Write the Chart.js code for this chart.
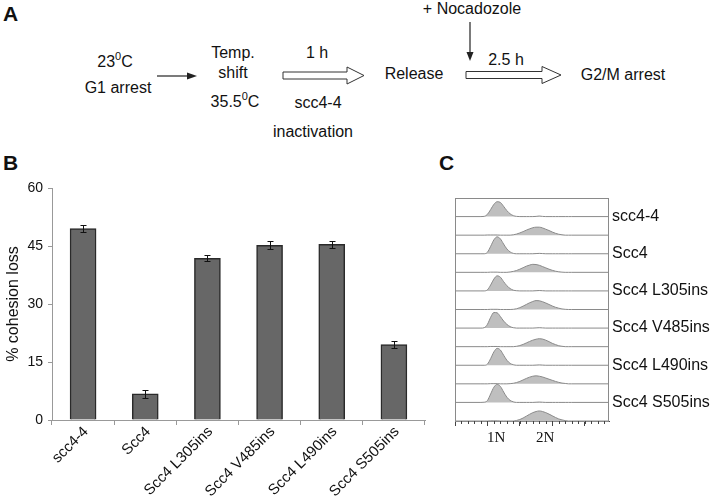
<!DOCTYPE html>
<html lang="en">
<head>
<meta charset="UTF-8">
<title>Scc4 insertion mutants - cohesion loss</title>
<script src="https://cdn.jsdelivr.net/npm/chart.js"></script>
<style>
  body { margin: 0; background: #fff; font-family: "Liberation Sans", Arial, sans-serif; }
  #page { position: relative; width: 714px; height: 499px; overflow: hidden; }
  #scheme { position: absolute; left: 0; top: 0; }
  #chartB { position: absolute; left: 0; top: 170px; }
  #chartC { position: absolute; left: 440px; top: 180px; }
</style>
</head>
<body>
<div id="page">
  <!-- panel A: experiment outline, plus the panel letters -->
  <svg id="scheme" width="714" height="499" font-family="Liberation Sans, Arial, sans-serif" font-size="16" fill="#111">
    <text x="3" y="21" font-size="21" font-weight="bold">A</text>
    <text x="3" y="170" font-size="21" font-weight="bold">B</text>
    <text x="439" y="170" font-size="21" font-weight="bold">C</text>

    <text x="115" y="67" text-anchor="middle">23<tspan font-size="11" dy="-7">0</tspan><tspan dy="7">C</tspan></text>
    <text x="118" y="93" text-anchor="middle">G1 arrest</text>
    <line x1="157" y1="76" x2="189" y2="76" stroke="#222" stroke-width="1.2"/>
    <polygon points="197,76 187,72.5 187,79.5" fill="#222"/>

    <text x="233" y="58" text-anchor="middle">Temp.</text>
    <text x="233" y="78" text-anchor="middle">shift</text>
    <text x="235" y="107" text-anchor="middle">35.5<tspan font-size="11" dy="-7">0</tspan><tspan dy="7">C</tspan></text>

    <text x="317" y="58" text-anchor="middle">1 h</text>
    <path d="M283,72 H347 V67 L364,75.5 L347,84 V79 H283 Z" fill="#fff" stroke="#333" stroke-width="1"/>
    <text x="318" y="108" text-anchor="middle">scc4-4</text>
    <text x="313" y="137" text-anchor="middle">inactivation</text>

    <text x="414" y="79" text-anchor="middle">Release</text>

    <text x="472" y="14" text-anchor="middle">+ Nocadozole</text>
    <line x1="470" y1="22" x2="470" y2="53" stroke="#222" stroke-width="1.2"/>
    <polygon points="470,61 466.5,52 473.5,52" fill="#222"/>
    <text x="506" y="65" text-anchor="middle">2.5 h</text>
    <path d="M466,71.5 H542 V66.5 L561,75 L542,83.5 V78.5 H466 Z" fill="#fff" stroke="#333" stroke-width="1"/>

    <text x="623" y="80" text-anchor="middle">G2/M arrest</text>
  </svg>

  <canvas id="chartB" width="440" height="329"></canvas>
  <canvas id="chartC" width="274" height="270"></canvas>
</div>

<script>
  // panel B: % cohesion loss per strain
  const strains = ['scc4-4', 'Scc4', 'Scc4 L305ins', 'Scc4 V485ins', 'Scc4 L490ins', 'Scc4 S505ins'];
  const lossPct = [49.5, 6.8, 41.8, 45.2, 45.4, 19.5];
  const lossErr = [0.9, 1.0, 0.8, 1.0, 0.9, 1.0];
  const lossTicks = [0, 15, 30, 45, 60];

  // panel C: DNA content histograms (G1 row, then G2/M row, per strain)
  const dnaBins = [0, 0.8, 0.9, 1.0, 1.1, 1.2, 1.3, 1.4, 1.5, 1.6, 1.7, 1.8, 1.9, 2.0, 2.1, 2.2,
                   2.3, 2.4, 2.5, 2.6, 2.7, 2.8, 2.9, 3.0, 3.1, 3.2, 3.3, 3.4, 3.5, 3.6, 4.75];
  const scc44G1  = [0,0,1,12,38,66,80,76,55,32,15,5,1,0,0,0,0,0,1,3,1,0,0,0,0,0,0,0,0,0,0];
  const scc44G2  = [0,0,0,1,1,1,1,0,0,0,0,2,6,12,19,27,34,40,43,43,39,32,25,17,10,5,2,0,0,0,0];
  const scc4G1   = [0,0,0,8,40,75,91,80,52,26,10,2,0,0,0,0,0,0,1,2,1,0,0,0,0,0,0,0,0,0,0];
  const scc4G2   = [0,0,0,0,1,1,1,0,0,0,2,5,10,17,25,33,39,43,42,38,31,24,17,11,6,3,1,0,0,0,0];
  const l305G1   = [0,0,0,6,32,64,81,74,50,28,13,4,1,0,0,0,0,0,1,2,1,0,0,0,0,0,0,0,0,0,0];
  const l305G2   = [0,0,0,0,1,1,1,0,0,0,0,1,4,10,18,27,36,43,48,47,42,35,27,19,12,7,3,1,0,0,0];
  const v485G1   = [0,0,2,20,58,84,82,62,38,20,8,2,0,0,0,0,0,0,1,2,1,0,0,0,0,0,0,0,0,0,0];
  const v485G2   = [0,0,0,0,1,1,1,0,0,0,0,0,2,6,12,20,28,35,40,43,41,35,27,18,11,5,2,0,0,0,0];
  const l490G1   = [0,0,0,6,36,72,91,82,54,27,10,3,0,0,0,0,0,0,1,2,1,0,0,0,0,0,0,0,0,0,0];
  const l490G2   = [0,0,0,0,1,1,1,0,0,0,1,3,7,13,21,29,36,41,43,41,37,31,25,19,13,8,4,2,0,0,0];
  const s505G1   = [0,0,1,10,46,82,97,86,56,28,11,3,0,0,0,0,0,0,1,2,1,0,0,0,0,0,0,0,0,0,0];
  const s505G2   = [0,0,0,0,1,1,1,0,0,0,0,0,3,8,16,26,36,45,51,54,51,45,37,28,19,11,6,2,0,0,0];
  const ploidyLabels = ['1N', '2N'];
  const ploidyPos = [1.27, 2.78];

  const histRows = [scc44G1, scc44G2, scc4G1, scc4G2, l305G1, l305G2,
                    v485G1, v485G2, l490G1, l490G2, s505G1, s505G2];

  const sans = '"Liberation Sans", Arial, sans-serif';

  const errorBars = {
    id: 'errorBars',
    afterDatasetsDraw(chart) {
      const ctx = chart.ctx;
      const y = chart.scales.y;
      ctx.save();
      ctx.strokeStyle = '#111';
      ctx.lineWidth = 1;
      chart.getDatasetMeta(0).data.forEach((bar, i) => {
        const top = Math.round(y.getPixelForValue(lossPct[i] + lossErr[i])) + 0.5;
        const bot = Math.round(y.getPixelForValue(lossPct[i] - lossErr[i])) + 0.5;
        const x = Math.round(bar.x) + 0.5;
        ctx.beginPath();
        ctx.moveTo(x, top); ctx.lineTo(x, bot);
        ctx.moveTo(x - 3, top); ctx.lineTo(x + 3, top);
        ctx.moveTo(x - 3, bot); ctx.lineTo(x + 3, bot);
        ctx.stroke();
      });
      ctx.restore();
    }
  };

  new Chart(document.getElementById('chartB'), {
    type: 'bar',
    data: {
      labels: strains,
      datasets: [{
        data: lossPct,
        backgroundColor: '#676767',
        borderColor: '#2a2a2a',
        borderWidth: 1.5,
        barThickness: 26
      }]
    },
    options: {
      responsive: false,
      animation: false,
      layout: { padding: { top: 18, right: 15, bottom: 0, left: 0 } },
      plugins: { legend: { display: false }, tooltip: { enabled: false } },
      scales: {
        x: {
          grid: { drawOnChartArea: false, tickLength: 5, color: '#999' },
          border: { color: '#999' },
          ticks: { autoSkip: false, minRotation: 45, maxRotation: 45, padding: -2, labelOffset: 3,
                   color: '#111', font: { family: sans, size: 15 } },
          afterFit: s => { s.height = 79; }
        },
        y: {
          min: 0, max: 60,
          afterBuildTicks: s => { s.ticks = lossTicks.map(v => ({ value: v })); },
          grid: { drawOnChartArea: false, tickLength: 4, color: '#999' },
          border: { color: '#999' },
          ticks: { padding: 5, color: '#111', font: { family: sans, size: 14 } },
          title: { display: true, text: '% cohesion loss', color: '#111',
                   font: { family: sans, size: 16 }, padding: { top: 4, bottom: 0 } },
          afterFit: s => { s.width = 52; }
        }
      }
    },
    plugins: [errorBars]
  });

  // frame round the histogram stack and the small ticks on the DNA axis
  const histFrame = {
    id: 'histFrame',
    afterDraw(chart) {
      const ctx = chart.ctx;
      const a = chart.chartArea;
      const x = chart.scales.x;
      ctx.save();
      ctx.strokeStyle = '#8a8a8a';
      ctx.lineWidth = 1;
      ctx.strokeRect(a.left + 0.5, a.top + 0.5, a.right - a.left - 1, a.bottom - a.top);
      ctx.strokeStyle = '#444';
      ctx.beginPath();
      for (let v = 0.2; v < x.max; v += 0.2) {
        const px = Math.round(x.getPixelForValue(v)) + 0.5;
        ctx.moveTo(px, a.bottom); ctx.lineTo(px, a.bottom + 3);
      }
      ctx.stroke();
      ctx.restore();
    }
  };

  const rowScales = {};
  for (let i = histRows.length - 1; i >= 0; i--) {
    rowScales['r' + i] = {
      axis: 'y', type: 'linear', position: 'left', stack: 'rows', min: 0, max: 100,
      ticks: { display: false },
      grid: { display: false, drawTicks: false },
      border: { display: false },
      afterFit: s => { s.width = 0; }
    };
  }

  new Chart(document.getElementById('chartC'), {
    type: 'line',
    data: {
      datasets: histRows.map((row, i) => ({
        data: dnaBins.map((b, k) => ({ x: b, y: row[k] })),
        yAxisID: 'r' + i,
        borderColor: '#8a8a8a',
        borderWidth: 1,
        backgroundColor: '#bfbfbf',
        fill: 'origin',
        pointRadius: 0,
        cubicInterpolationMode: 'monotone',
        clip: false
      }))
    },
    options: {
      responsive: false,
      animation: false,
      layout: { padding: { top: 18, right: 0, bottom: 0, left: 15 } },
      plugins: { legend: { display: false }, tooltip: { enabled: false } },
      scales: {
        x: {
          type: 'linear', position: 'bottom', min: 0, max: 4.75,
          ticks: { display: false, stepSize: 1, includeBounds: false },
          grid: { drawOnChartArea: false, tickLength: 5, color: '#444' },
          border: { color: '#444' },
          afterFit: s => { s.height = 5; }
        },
        x2: {
          type: 'linear', position: 'bottom', min: 0, max: 4.75,
          afterBuildTicks: s => { s.ticks = ploidyPos.map(v => ({ value: v })); },
          ticks: { padding: 3, color: '#111', callback: (v, i) => ploidyLabels[i],
                   font: { family: '"Liberation Serif", "Times New Roman", serif', size: 15 } },
          grid: { display: false, drawTicks: false },
          border: { display: false },
          afterFit: s => { s.height = 24; }
        },
        yl: {
          axis: 'y', type: 'category', position: 'right', labels: strains, offset: true,
          grid: { display: false, drawTicks: false },
          border: { display: false },
          ticks: { padding: 3, color: '#111', font: { family: sans, size: 16 } },
          afterFit: s => { s.width = 105; }
        },
        ...rowScales
      }
    },
    plugins: [histFrame]
  });
</script>
</body>
</html>
